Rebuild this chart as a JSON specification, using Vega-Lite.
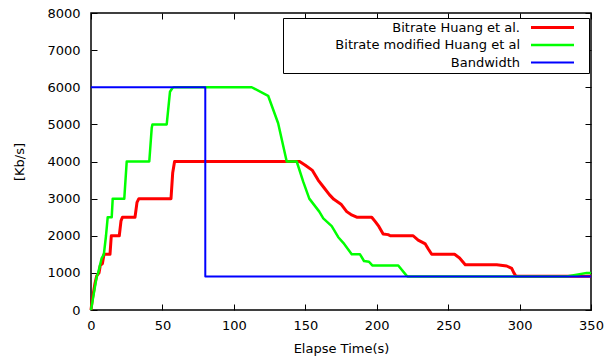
{
  "$schema": "https://vega.github.io/schema/vega-lite/v6.json",
  "width": 500,
  "height": 297,
  "autosize": {"type": "none"},
  "padding": {"left": 91, "top": 13, "right": 22, "bottom": 50},
  "background": "#ffffff",
  "config": {
    "font": "DejaVu Sans",
    "view": {"stroke": "#000000", "strokeWidth": 1.5},
    "axis": {
      "domain": false,
      "grid": false,
      "tickColor": "#000000",
      "tickSize": -6,
      "tickWidth": 1,
      "labelFlush": false,
      "labelFont": "DejaVu Sans",
      "labelFontSize": 13,
      "labelColor": "#000000",
      "titleFont": "DejaVu Sans",
      "titleFontSize": 13,
      "titleFontWeight": "normal",
      "titleColor": "#000000"
    }
  },
  "data": {
    "values": [
      {"time": 0, "rate": 0, "series": "Bitrate Huang et al."},
      {"time": 1, "rate": 300, "series": "Bitrate Huang et al."},
      {"time": 2.8, "rate": 720, "series": "Bitrate Huang et al."},
      {"time": 4, "rate": 920, "series": "Bitrate Huang et al."},
      {"time": 5.6, "rate": 1000, "series": "Bitrate Huang et al."},
      {"time": 6.5, "rate": 1200, "series": "Bitrate Huang et al."},
      {"time": 8, "rate": 1250, "series": "Bitrate Huang et al."},
      {"time": 9.1, "rate": 1500, "series": "Bitrate Huang et al."},
      {"time": 13.3, "rate": 1500, "series": "Bitrate Huang et al."},
      {"time": 14.2, "rate": 2000, "series": "Bitrate Huang et al."},
      {"time": 19.8, "rate": 2000, "series": "Bitrate Huang et al."},
      {"time": 21, "rate": 2400, "series": "Bitrate Huang et al."},
      {"time": 22, "rate": 2500, "series": "Bitrate Huang et al."},
      {"time": 30.8, "rate": 2500, "series": "Bitrate Huang et al."},
      {"time": 32.2, "rate": 2900, "series": "Bitrate Huang et al."},
      {"time": 33.5, "rate": 3000, "series": "Bitrate Huang et al."},
      {"time": 56, "rate": 3000, "series": "Bitrate Huang et al."},
      {"time": 57.2, "rate": 3700, "series": "Bitrate Huang et al."},
      {"time": 58.5, "rate": 4000, "series": "Bitrate Huang et al."},
      {"time": 146, "rate": 4000, "series": "Bitrate Huang et al."},
      {"time": 150, "rate": 3900, "series": "Bitrate Huang et al."},
      {"time": 155, "rate": 3760, "series": "Bitrate Huang et al."},
      {"time": 159, "rate": 3500, "series": "Bitrate Huang et al."},
      {"time": 163, "rate": 3300, "series": "Bitrate Huang et al."},
      {"time": 167, "rate": 3100, "series": "Bitrate Huang et al."},
      {"time": 170, "rate": 2980, "series": "Bitrate Huang et al."},
      {"time": 175, "rate": 2850, "series": "Bitrate Huang et al."},
      {"time": 179, "rate": 2650, "series": "Bitrate Huang et al."},
      {"time": 182, "rate": 2570, "series": "Bitrate Huang et al."},
      {"time": 186, "rate": 2500, "series": "Bitrate Huang et al."},
      {"time": 196.5, "rate": 2500, "series": "Bitrate Huang et al."},
      {"time": 199, "rate": 2380, "series": "Bitrate Huang et al."},
      {"time": 201.5, "rate": 2250, "series": "Bitrate Huang et al."},
      {"time": 204.5, "rate": 2050, "series": "Bitrate Huang et al."},
      {"time": 208, "rate": 2030, "series": "Bitrate Huang et al."},
      {"time": 209.5, "rate": 2000, "series": "Bitrate Huang et al."},
      {"time": 225.5, "rate": 2000, "series": "Bitrate Huang et al."},
      {"time": 229, "rate": 1880, "series": "Bitrate Huang et al."},
      {"time": 234, "rate": 1780, "series": "Bitrate Huang et al."},
      {"time": 236, "rate": 1650, "series": "Bitrate Huang et al."},
      {"time": 238.5, "rate": 1500, "series": "Bitrate Huang et al."},
      {"time": 254.5, "rate": 1500, "series": "Bitrate Huang et al."},
      {"time": 258, "rate": 1400, "series": "Bitrate Huang et al."},
      {"time": 262, "rate": 1220, "series": "Bitrate Huang et al."},
      {"time": 284, "rate": 1220, "series": "Bitrate Huang et al."},
      {"time": 291, "rate": 1185, "series": "Bitrate Huang et al."},
      {"time": 294.5, "rate": 1120, "series": "Bitrate Huang et al."},
      {"time": 296, "rate": 1000, "series": "Bitrate Huang et al."},
      {"time": 297.5, "rate": 910, "series": "Bitrate Huang et al."},
      {"time": 350, "rate": 910, "series": "Bitrate Huang et al."},
      {"time": 0, "rate": 0, "series": "Bitrate modified Huang et al"},
      {"time": 1.6, "rate": 360, "series": "Bitrate modified Huang et al"},
      {"time": 4, "rate": 900, "series": "Bitrate modified Huang et al"},
      {"time": 5, "rate": 1000, "series": "Bitrate modified Huang et al"},
      {"time": 7.5, "rate": 1400, "series": "Bitrate modified Huang et al"},
      {"time": 9, "rate": 1500, "series": "Bitrate modified Huang et al"},
      {"time": 10.5, "rate": 2000, "series": "Bitrate modified Huang et al"},
      {"time": 11.7, "rate": 2500, "series": "Bitrate modified Huang et al"},
      {"time": 14.5, "rate": 2500, "series": "Bitrate modified Huang et al"},
      {"time": 15.2, "rate": 3000, "series": "Bitrate modified Huang et al"},
      {"time": 23.3, "rate": 3000, "series": "Bitrate modified Huang et al"},
      {"time": 25, "rate": 4000, "series": "Bitrate modified Huang et al"},
      {"time": 40.8, "rate": 4000, "series": "Bitrate modified Huang et al"},
      {"time": 42.5, "rate": 4900, "series": "Bitrate modified Huang et al"},
      {"time": 43, "rate": 5000, "series": "Bitrate modified Huang et al"},
      {"time": 53, "rate": 5000, "series": "Bitrate modified Huang et al"},
      {"time": 55.3, "rate": 5880, "series": "Bitrate modified Huang et al"},
      {"time": 57, "rate": 5980, "series": "Bitrate modified Huang et al"},
      {"time": 58, "rate": 6000, "series": "Bitrate modified Huang et al"},
      {"time": 112.5, "rate": 6000, "series": "Bitrate modified Huang et al"},
      {"time": 124, "rate": 5770, "series": "Bitrate modified Huang et al"},
      {"time": 131, "rate": 5030, "series": "Bitrate modified Huang et al"},
      {"time": 137, "rate": 4000, "series": "Bitrate modified Huang et al"},
      {"time": 144, "rate": 4000, "series": "Bitrate modified Huang et al"},
      {"time": 148.6, "rate": 3450, "series": "Bitrate modified Huang et al"},
      {"time": 152.8, "rate": 3000, "series": "Bitrate modified Huang et al"},
      {"time": 159.8, "rate": 2650, "series": "Bitrate modified Huang et al"},
      {"time": 162.6, "rate": 2470, "series": "Bitrate modified Huang et al"},
      {"time": 168.5, "rate": 2260, "series": "Bitrate modified Huang et al"},
      {"time": 173.1, "rate": 1960, "series": "Bitrate modified Huang et al"},
      {"time": 176.6, "rate": 1810, "series": "Bitrate modified Huang et al"},
      {"time": 182.5, "rate": 1500, "series": "Bitrate modified Huang et al"},
      {"time": 188.3, "rate": 1500, "series": "Bitrate modified Huang et al"},
      {"time": 191.1, "rate": 1320, "series": "Bitrate modified Huang et al"},
      {"time": 194.6, "rate": 1300, "series": "Bitrate modified Huang et al"},
      {"time": 196.9, "rate": 1200, "series": "Bitrate modified Huang et al"},
      {"time": 215.1, "rate": 1200, "series": "Bitrate modified Huang et al"},
      {"time": 221, "rate": 920, "series": "Bitrate modified Huang et al"},
      {"time": 222, "rate": 900, "series": "Bitrate modified Huang et al"},
      {"time": 333, "rate": 900, "series": "Bitrate modified Huang et al"},
      {"time": 340, "rate": 950, "series": "Bitrate modified Huang et al"},
      {"time": 347, "rate": 1000, "series": "Bitrate modified Huang et al"},
      {"time": 350, "rate": 1000, "series": "Bitrate modified Huang et al"},
      {"time": 0, "rate": 6000, "series": "Bandwidth"},
      {"time": 80, "rate": 6000, "series": "Bandwidth"},
      {"time": 80, "rate": 900, "series": "Bandwidth"},
      {"time": 350, "rate": 900, "series": "Bandwidth"}
    ]
  },
  "encoding": {
    "x": {"field": "time", "type": "quantitative", "scale": {"domain": [0, 350], "nice": false, "zero": false}},
    "y": {"field": "rate", "type": "quantitative", "scale": {"domain": [0, 8000], "nice": false}},
    "order": {"value": null},
    "color": {
      "field": "series",
      "type": "nominal",
      "scale": {
        "domain": ["Bitrate Huang et al.", "Bitrate modified Huang et al", "Bandwidth"],
        "range": ["#ff0000", "#00ff00", "#0000ff"]
      },
      "legend": {
        "orient": "none",
        "legendX": 192,
        "legendY": 5,
        "title": " ",
        "titleOrient": "right",
        "titlePadding": 6,
        "titleFontSize": 13,
        "strokeColor": "#000000",
        "fillColor": "#ffffff",
        "padding": 3,
        "symbolType": "M-4.3,0H4.3",
        "symbolSize": 100,
        "symbolOffset": 260,
        "labelAlign": "right",
        "labelOffset": -39,
        "labelLimit": 0,
        "rowPadding": 3.5,
        "labelFont": "DejaVu Sans",
        "labelFontSize": 13,
        "labelColor": "#000000"
      }
    },
    "strokeWidth": {
      "field": "series",
      "type": "nominal",
      "scale": {
        "domain": ["Bitrate Huang et al.", "Bitrate modified Huang et al", "Bandwidth"],
        "range": [3, 2, 1]
      }
    }
  },
  "layer": [
    {
      "transform": [{"filter": "datum.series === 'Bitrate Huang et al.'"}],
      "mark": {"type": "line", "strokeJoin": "round"},
      "encoding": {
        "x": {"field": "time", "type": "quantitative", "axis": {"values": [0, 50, 100, 150, 200, 250, 300, 350], "format": "d", "title": "Elapse Time(s)", "labelPadding": 15, "titlePadding": 10}},
        "y": {"field": "rate", "type": "quantitative", "axis": {"values": [0, 1000, 2000, 3000, 4000, 5000, 6000, 7000, 8000], "format": "d", "title": "[Kb/s]", "labelPadding": 17, "titlePadding": 20}}
      }
    },
    {
      "transform": [{"filter": "datum.series === 'Bitrate modified Huang et al'"}],
      "mark": {"type": "line", "strokeJoin": "round"},
      "encoding": {
        "x": {"field": "time", "type": "quantitative", "axis": {"orient": "top", "values": [0, 50, 100, 150, 200, 250, 300, 350], "labels": false, "title": null}},
        "y": {"field": "rate", "type": "quantitative", "axis": {"orient": "right", "values": [0, 1000, 2000, 3000, 4000, 5000, 6000, 7000, 8000], "labels": false, "title": null}}
      }
    },
    {
      "transform": [{"filter": "datum.series === 'Bandwidth'"}],
      "mark": {"type": "line", "strokeJoin": "round"},
      "encoding": {
        "x": {"field": "time", "type": "quantitative", "axis": null},
        "y": {"field": "rate", "type": "quantitative", "axis": null}
      }
    }
  ],
  "resolve": {"axis": {"x": "independent", "y": "independent"}}
}
